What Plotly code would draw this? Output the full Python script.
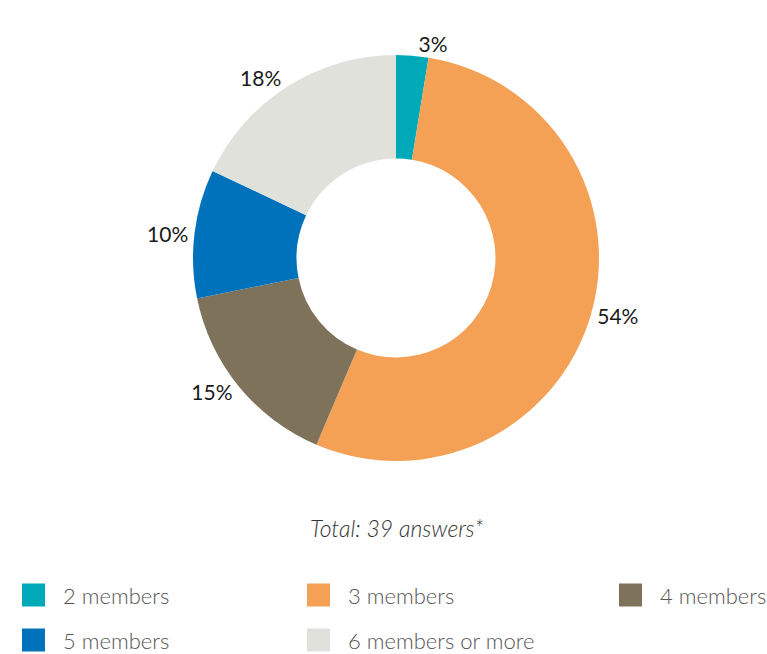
import plotly.graph_objects as go

categories = ["2 members", "3 members", "4 members", "5 members", "6 members or more"]
answers = [1, 21, 6, 4, 7]
colors = ["#00a9b7", "#f4a155", "#7f725a", "#0072bc", "#e1e1dc"]
total_text = "Total: 39 answers*"

W, H = 767, 654


def px(sx):
    return sx / W


def py(sy):
    return 1 - sy / H


cx, cy, r = 396, 258, 203

fig = go.Figure(go.Pie(
    labels=categories,
    values=answers,
    hole=0.49,
    sort=False,
    direction="clockwise",
    rotation=0,
    marker=dict(colors=colors, line=dict(width=0)),
    texttemplate="%{percent:.0%}",
    textposition="outside",
    outsidetextfont=dict(family="Lato", size=21, color="#1a1a1a", weight=400),
    domain=dict(x=[px(cx - r), px(cx + r)], y=[py(cy + r), py(cy - r)]),
    showlegend=False,
))

# custom legend laid out like the reference (3 columns, 2 rows)
col_x = [22, 307, 619]
row_y = [595, 640]
shapes, annotations = [], []
for i, (name, col) in enumerate(zip(categories, colors)):
    x0 = col_x[i % 3]
    yc = row_y[i // 3]
    shapes.append(dict(type="rect", xref="paper", yref="paper",
                       x0=px(x0), x1=px(x0 + 23),
                       y0=py(yc + 11.5), y1=py(yc - 11.5),
                       fillcolor=col, line=dict(width=0)))
    annotations.append(dict(text=name, xref="paper", yref="paper",
                            x=px(x0 + 39), y=py(yc), xanchor="left", yanchor="middle",
                            showarrow=False,
                            font=dict(family="Lato", size=22, color="#555555", weight=300)))

annotations.append(dict(
    text=total_text, x=px(cx), y=py(528), xref="paper", yref="paper",
    xanchor="center", yanchor="middle", showarrow=False,
    font=dict(family="Lato", size=23, color="#333333", style="italic", weight=300),
))

fig.update_layout(
    width=W, height=H,
    margin=dict(l=0, r=0, t=0, b=0),
    paper_bgcolor="white",
    font=dict(family="Lato", weight=300),
    shapes=shapes,
    annotations=annotations,
)

fig.write_html(
    "out.html",
    config={"displayModeBar": False},
    post_script="document.body.style.margin='0';document.body.style.overflow='hidden';",
)
